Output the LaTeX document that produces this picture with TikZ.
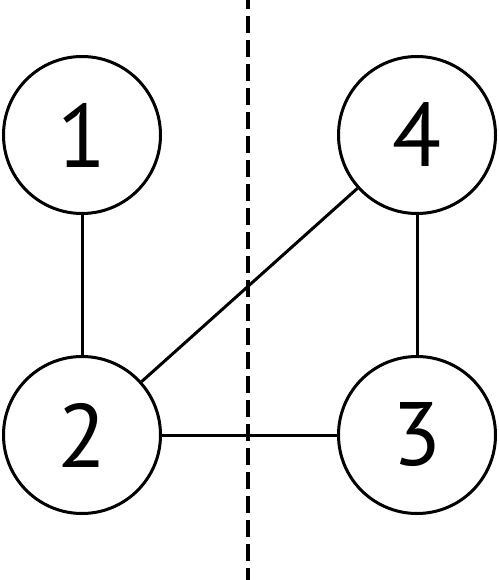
\documentclass[tikz,border=0pt]{standalone}
\usepackage{fontspec}
\setmainfont{PT Sans}
\begin{document}
\begin{tikzpicture}[x=1pt,y=-1pt,
  vert/.style={circle,draw,line width=3pt,minimum size=157pt,inner sep=0pt,font=\fontsize{90}{90}\selectfont},
  edge/.style={line width=3pt},
  cut/.style={line width=4pt,dash pattern=on 17pt off 7pt,dash phase=8pt}]
\useasboundingbox (0,0) rectangle (498,580);
\node[vert] (n1) at (82,135) {1};
\node[vert] (n4) at (417,135) {4};
\node[vert] (n2) at (82,435) {2};
\node[vert] (n3) at (417,435) {3};
\draw[edge] (n1) -- (n2);
\draw[edge] (n2) -- (n3);
\draw[edge] (n2) -- (n4);
\draw[edge] (n4) -- (n3);
\coordinate (ctop) at (248,0);
\coordinate (cbot) at (248,580);
\draw[cut] (ctop) -- (cbot);
\end{tikzpicture}
\end{document}
